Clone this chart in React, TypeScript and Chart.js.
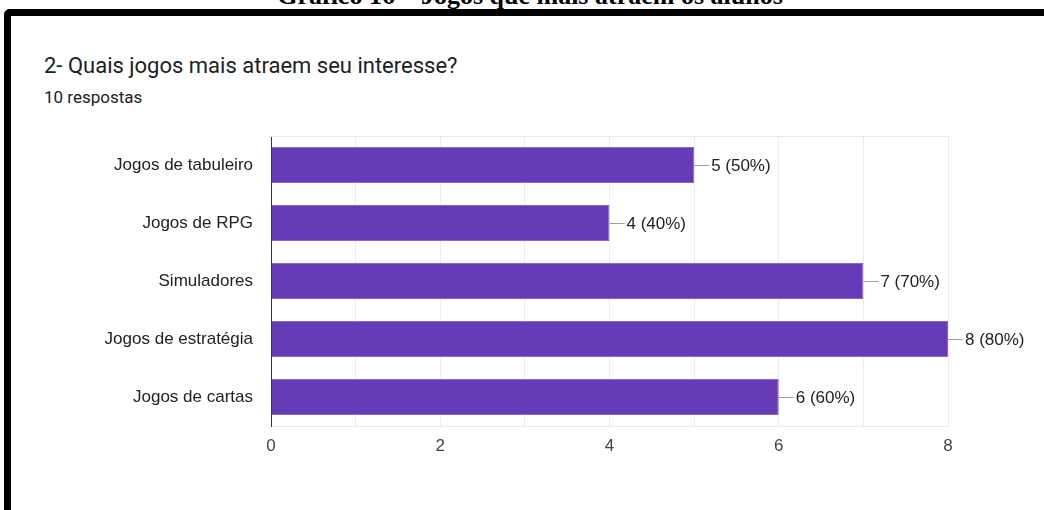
import React, { useEffect, useRef } from "react";
import { Chart, registerables } from "chart.js";

Chart.register(...registerables);

const categories = [
  "Jogos de tabuleiro",
  "Jogos de RPG",
  "Simuladores",
  "Jogos de estratégia",
  "Jogos de cartas",
];
const counts = [5, 4, 7, 8, 6];
const totalResponses = 10;
const xTickLabels = [0, 2, 4, 6, 8];
const pageTitle = "Gráfico 16 – Jogos que mais atraem os alunos";
const questionTitle = "2- Quais jogos mais atraem seu interesse?";
const responsesText = `${totalResponses} respostas`;

const FONT = "'Liberation Sans', Arial, sans-serif";

const valueLabelPlugin = {
  id: "valueLabels",
  afterDatasetsDraw(chart: any) {
    const ctx = chart.ctx;
    const meta = chart.getDatasetMeta(0);
    ctx.save();
    meta.data.forEach((bar: any, i: number) => {
      const v = counts[i];
      const x = bar.x;
      const y = bar.y;
      ctx.strokeStyle = "#9e9e9e";
      ctx.lineWidth = 1;
      ctx.beginPath();
      ctx.moveTo(x, Math.round(y) + 0.5);
      ctx.lineTo(x + 15, Math.round(y) + 0.5);
      ctx.stroke();
      ctx.fillStyle = "#222222";
      ctx.font = `17px ${FONT}`;
      ctx.textAlign = "left";
      ctx.textBaseline = "middle";
      const pct = Math.round((v / totalResponses) * 100);
      ctx.fillText(`${v} (${pct}%)`, x + 17, y + 1);
    });
    ctx.restore();
  },
};

const topLinePlugin = {
  id: "topLine",
  beforeDatasetsDraw(chart: any) {
    const { ctx, chartArea } = chart;
    ctx.save();
    ctx.strokeStyle = "#ebebeb";
    ctx.lineWidth = 1;
    ctx.beginPath();
    ctx.moveTo(chartArea.left, chartArea.top + 0.5);
    ctx.lineTo(chartArea.right, chartArea.top + 0.5);
    ctx.stroke();
    ctx.restore();
  },
};

function BarChart() {
  const ref = useRef<HTMLCanvasElement>(null);
  useEffect(() => {
    if (!ref.current) return;
    const chart = new Chart(ref.current, {
      type: "bar",
      data: {
        labels: categories,
        datasets: [
          {
            data: counts,
            backgroundColor: "#673ab7",
            borderColor: "#8a68c6",
            borderWidth: 1,
            barPercentage: 0.62,
            categoryPercentage: 1,
          },
        ],
      },
      options: {
        indexAxis: "y",
        animation: false,
        responsive: false,
        maintainAspectRatio: false,
        layout: { padding: { top: 16, right: 82, left: 0, bottom: 0 } },
        plugins: {
          legend: { display: false },
          tooltip: { enabled: false },
          title: { display: false },
        },
        scales: {
          x: {
            min: 0,
            max: 8,
            afterFit(scale: any) {
              scale.height = 54;
            },
            ticks: {
              stepSize: 1,
              padding: 10,
              color: "#444444",
              font: { size: 17, family: FONT },
              callback: (v: any) =>
                xTickLabels.includes(Number(v)) ? String(v) : "",
            },
            grid: { color: "#ebebeb", drawTicks: false },
            border: { color: "#ebebeb" },
          },
          y: {
            afterFit(scale: any) {
              scale.width = 251;
              scale.paddingTop = 0;
              scale.paddingBottom = 0;
            },
            ticks: {
              padding: 18,
              color: "#222222",
              font: { size: 17, family: FONT },
            },
            grid: { display: false, drawTicks: false },
            border: { color: "#333333", width: 1 },
          },
        },
      },
      plugins: [topLinePlugin, valueLabelPlugin],
    });
    return () => chart.destroy();
  }, []);
  return (
    <canvas
      ref={ref}
      width={1010}
      height={360}
      style={{ position: "absolute", left: 20, top: 120, width: 1010, height: 360 }}
    />
  );
}

export default function App() {
  return (
    <div
      style={{
        position: "absolute",
        left: 0,
        top: 0,
        width: 1044,
        height: 510,
        background: "#ffffff",
        overflow: "hidden",
      }}
    >
      <div
        style={{
          position: "absolute",
          left: 0,
          top: -17,
          width: 1060,
          textAlign: "center",
          fontFamily: "'Liberation Serif', 'Times New Roman', serif",
          fontWeight: "bold",
          fontSize: 26,
          lineHeight: "26px",
          color: "#000",
          whiteSpace: "nowrap",
        }}
      >
        {pageTitle}
      </div>
      <div
        style={{
          position: "absolute",
          left: 4,
          top: 9,
          width: 1100,
          height: 600,
          borderTop: "7px solid #000",
          borderLeft: "7px solid #000",
          borderTopLeftRadius: 6,
          boxSizing: "border-box",
        }}
      />
      <div
        style={{
          position: "absolute",
          left: 44,
          top: 54.5,
          fontFamily: "Roboto, sans-serif",
          fontSize: 22,
          lineHeight: "22px",
          color: "#202124",
          whiteSpace: "nowrap",
        }}
      >
        {questionTitle}
      </div>
      <div
        style={{
          position: "absolute",
          left: 44,
          top: 89,
          fontFamily: "Roboto, sans-serif",
          fontSize: 17,
          lineHeight: "17px",
          color: "#202124",
          whiteSpace: "nowrap",
        }}
      >
        {responsesText}
      </div>
      <BarChart />
    </div>
  );
}
